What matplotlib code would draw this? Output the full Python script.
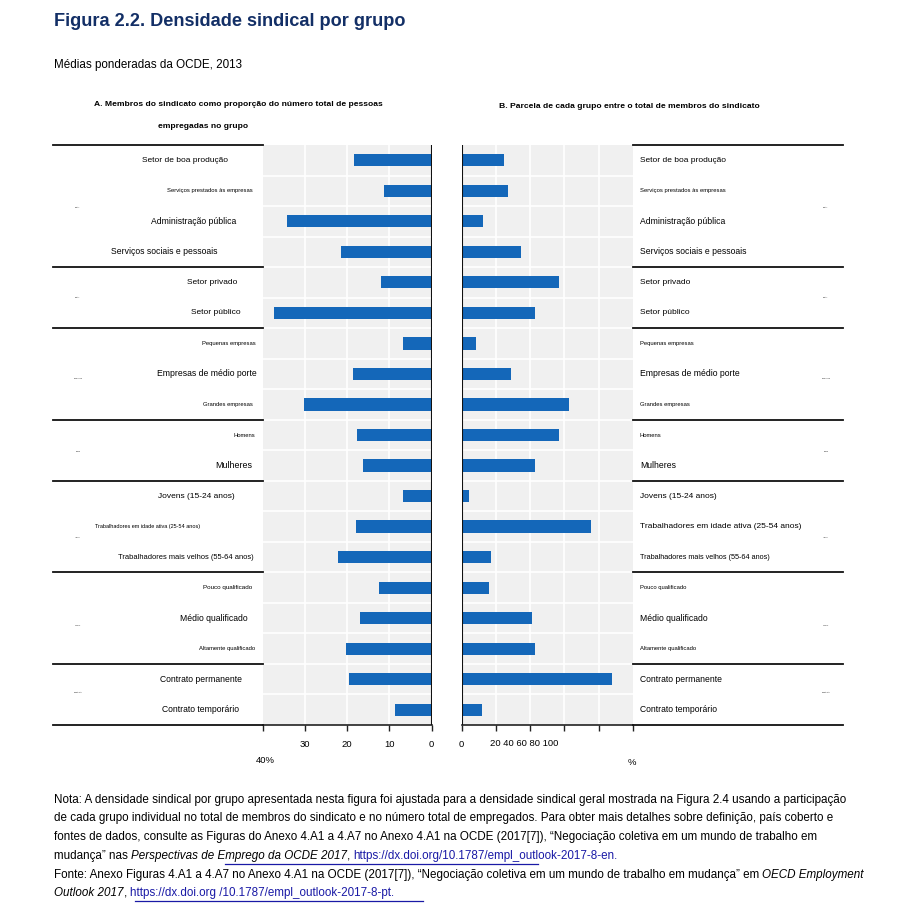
import numpy as np
import matplotlib.pyplot as plt
from matplotlib.lines import Line2D
from matplotlib.transforms import blended_transform_factory

plt.rcParams['font.family'] = ['Liberation Sans', 'DejaVu Sans']

# data
groups = ['Setor de boa produção', 'Serviços prestados às empresas', 'Administração pública',
          'Serviços sociais e pessoais', 'Setor privado', 'Setor público', 'Pequenas empresas',
          'Empresas de médio porte', 'Grandes empresas', 'Homens', 'Mulheres',
          'Jovens (15-24 anos)', 'Trabalhadores em idade ativa (25-54 anos)',
          'Trabalhadores mais velhos (55-64 anos)', 'Pouco qualificado', 'Médio qualificado',
          'Altamente qualificado', 'Contrato permanente', 'Contrato temporário']
density = [18.5, 11.2, 34.3, 21.6, 12.0, 37.5, 6.7, 18.7, 30.3, 17.8, 16.2,
           6.7, 18.0, 22.3, 12.4, 16.9, 20.2, 19.5, 8.7]
share = [24.8, 27.2, 12.6, 34.6, 56.9, 42.9, 8.3, 28.7, 62.6, 56.7, 42.7,
         4.3, 75.4, 17.1, 15.9, 41.0, 42.9, 87.6, 12.0]
group_breaks = [3.5, 5.5, 8.5, 10.5, 13.5, 16.5]
group_tags = ['Setor', 'Setor', 'Empresa', 'Sexo', 'Idade', 'Qualif.', 'Contrato']
left_ticks = [30, 20, 10, 0]
right_ticks = [0, 20, 40, 60, 80, 100]

# style (per label)
left_lab_x = [185, 210, 194, 164, 212, 216, 229, 207, 228, 244, 234, 196, 148, 186, 228, 214, 227, 201, 200]
left_lab_fs = [6, 4.2, 6.2, 6.2, 6, 6, 4.2, 6.2, 4.2, 4.2, 6.4, 6, 4.0, 5.4, 4.5, 6.2, 4.2, 6.2, 6.2]
right_lab_fs = [6, 4.2, 6.2, 6.2, 6, 6, 4.2, 6.2, 4.2, 4.2, 6.2, 6, 6, 5.2, 4.2, 6.2, 4.2, 6.2, 6.2]
tag_y = [207, 297, 378, 452, 538, 626, 692]

W, H = 906, 913
fig = plt.figure(figsize=(W / 100, H / 100), dpi=100)

def fx(x):
    return x / W

def fy(y):
    return 1 - y / H

blue = '#1467b9'
grey = '#f0f0f0'
n = len(groups)
ypos = np.arange(n)

ax1 = fig.add_axes([fx(263), fy(725), fx(431.5 - 263), (725 - 145) / H])
ax2 = fig.add_axes([fx(461.5), fy(725), fx(633 - 461.5), (725 - 145) / H])

for ax, vals, lim in [(ax1, density, (40, 0)), (ax2, share, (0, 100))]:
    ax.set_facecolor(grey)
    ax.barh(ypos, vals, height=0.4, color=blue, zorder=3)
    ax.set_xlim(*lim)
    ax.set_ylim(n - 0.5, -0.5)
    ax.set_yticks([])
    for b in np.arange(0.5, n - 1, 1):
        ax.axhline(b, color='white', lw=1.2, zorder=1)
    for s in ['top', 'left', 'right']:
        ax.spines[s].set_visible(False)
    ax.spines['bottom'].set_color('#222222')
    ax.spines['bottom'].set_linewidth(1.2)
    ax.tick_params(axis='x', direction='out', length=4, width=1, color='#222222',
                   labelsize=6.8, pad=7)

ax1.set_xticks([40] + left_ticks)
ax1.set_xticklabels([''] + [str(t) for t in left_ticks])
for t in left_ticks[:-1]:
    ax1.axvline(t, color='white', lw=1.2, zorder=1)
ax1.axvline(0, color='#111111', lw=1.5, zorder=4)

ax2.set_xticks(right_ticks)
ax2.set_xticklabels(['0', '', '', '', '', ''])
for t in right_ticks[1:-1]:
    ax2.axvline(t, color='white', lw=1.2, zorder=1)
ax2.axvline(0, color='#111111', lw=1.5, zorder=4)

fig.text(fx(265), fy(760), '40%', fontsize=6.8, ha='center', va='center')
fig.text(fx(490), fy(743), ' '.join(str(t) for t in right_ticks[1:]), fontsize=6.8,
         ha='left', va='center')
fig.text(fx(632), fy(762), '%', fontsize=6.8, ha='center', va='center')

# category labels
tr1 = blended_transform_factory(fig.transFigure, ax1.transData)
tr2 = blended_transform_factory(fig.transFigure, ax2.transData)
for i, g in enumerate(groups):
    ax1.text(fx(left_lab_x[i]), i, g, transform=tr1,
             fontsize=left_lab_fs[i], ha='center', va='center')
    ax2.text(fx(640), i, g, transform=tr2,
             fontsize=right_lab_fs[i], ha='left', va='center')

# group separators
for b in [-0.5] + group_breaks + [n - 0.5]:
    fig.add_artist(Line2D([fx(53), fx(263)], [b, b], transform=tr1, color='#111111', lw=1.3))
    fig.add_artist(Line2D([fx(633), fx(843)], [b, b], transform=tr1, color='#111111', lw=1.3))

for i, t in enumerate(group_tags):
    fig.text(fx(78), fy(tag_y[i]), t, fontsize=1.6, ha='center', va='center', color='#333333')
    fig.text(fx(826), fy(tag_y[i]), t, fontsize=1.6, ha='center', va='center', color='#333333')

# titles
fig.text(fx(54), fy(22), 'Figura 2.2. Densidade sindical por grupo', fontsize=13.1,
         fontweight='bold', color='#132f66', ha='left', va='center')
fig.text(fx(54), fy(65), 'Médias ponderadas da OCDE, 2013', fontsize=8.35, ha='left', va='center')
fig.text(fx(238.5), fy(105), 'A. Membros do sindicato como proporção do número total de pessoas',
         fontsize=6.1, fontweight='bold', ha='center', va='center')
fig.text(fx(203), fy(126), 'empregadas no grupo', fontsize=6.1, fontweight='bold',
         ha='center', va='center')
fig.text(fx(629.5), fy(107), 'B. Parcela de cada grupo entre o total de membros do sindicato',
         fontsize=6.1, fontweight='bold', ha='center', va='center')

# notes
link = '#1a1aa6'
note_lines = [
    [('Nota: A densidade sindical por grupo apresentada nesta figura foi ajustada para a densidade sindical geral mostrada na Figura 2.4 usando a participação', 'normal', 'black')],
    [('de cada grupo individual no total de membros do sindicato e no número total de empregados. Para obter mais detalhes sobre definição, país coberto e', 'normal', 'black')],
    [('fontes de dados, consulte as Figuras do Anexo 4.A1 a 4.A7 no Anexo 4.A1 na OCDE (2017[7]), “Negociação coletiva em um mundo de trabalho em', 'normal', 'black')],
    [('mudança” nas ', 'normal', 'black'), ('Perspectivas de Emprego da OCDE 2017', 'italic', 'black'),
     (', ', 'normal', 'black'), ('https://dx.doi.org/10.1787/empl_outlook-2017-8-en.', 'normal', link)],
    [('Fonte: Anexo Figuras 4.A1 a 4.A7 no Anexo 4.A1 na OCDE (2017[7]), “Negociação coletiva em um mundo de trabalho em mudança” em ', 'normal', 'black'),
     ('OECD Employment', 'italic', 'black')],
    [('Outlook 2017', 'italic', 'black'), (', ', 'normal', 'black'),
     ('https://dx.doi.org /10.1787/empl_outlook-2017-8-pt.', 'normal', link)],
]
note_y = [800, 818, 837, 856, 875, 893]
renderer = fig.canvas.get_renderer()
for y, segs in zip(note_y, note_lines):
    x = 54
    for s, style, c in segs:
        t = fig.text(fx(x), fy(y), s, fontsize=8.4, style=style, color=c, ha='left', va='center')
        x += t.get_window_extent(renderer).width

fig.add_artist(Line2D([fx(225), fx(538)], [fy(864), fy(864)], color=link, lw=0.9))
fig.add_artist(Line2D([fx(135), fx(423)], [fy(901), fy(901)], color=link, lw=0.9))

fig.savefig('out.png', dpi=100)
